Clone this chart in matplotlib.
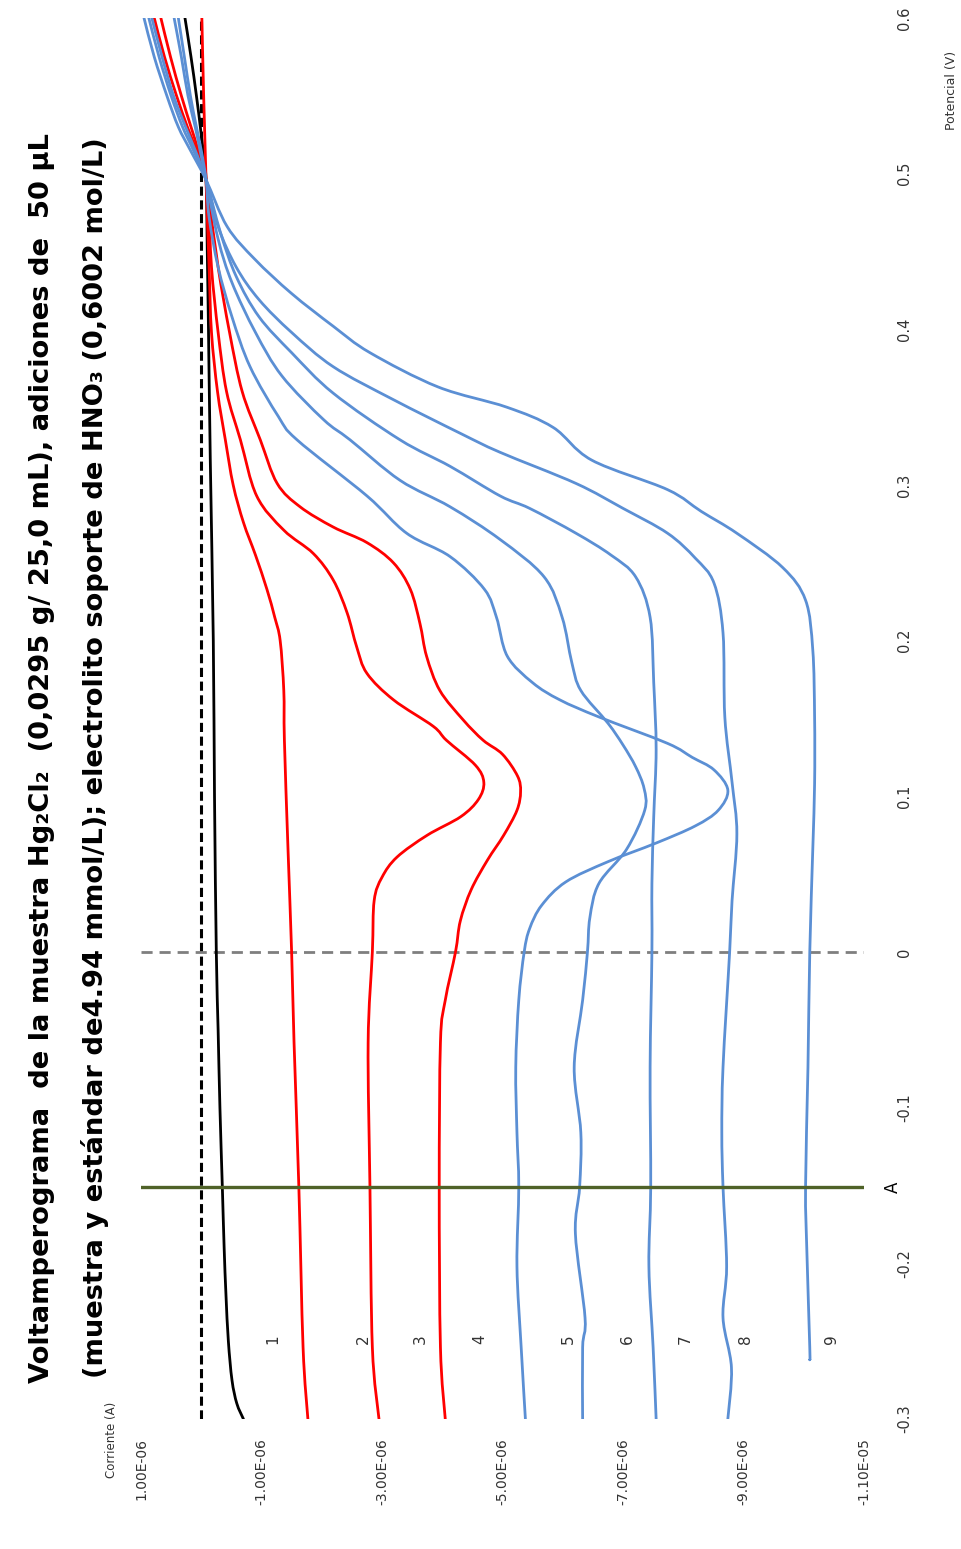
import matplotlib
matplotlib.use("Agg")
import matplotlib.pyplot as plt
from matplotlib.path import Path
from matplotlib.patches import PathPatch
import numpy as np

plt.rcParams['font.family'] = ['DejaVu Sans']

# Potential (V) / current (uA) pairs, one pair per curve
black_pot = [-0.30, -0.29, -0.275, -0.25, -0.22, -0.19, -0.151, -0.10, -0.05, 0.0, 0.10, 0.20, 0.316, 0.40, 0.45, 0.496,
             0.525, 0.55, 0.575, 0.60]
black_cur = [-0.70, -0.59, -0.51, -0.45, -0.41, -0.38, -0.35, -0.31, -0.28, -0.25, -0.22, -0.20, -0.15, -0.12, -0.10, -0.08,
             0.0, 0.08, 0.17, 0.27]

red1_pot = [-0.30, -0.254, -0.151, -0.058, 0.0, 0.066, 0.136, 0.168, 0.20, 0.215, 0.233, 0.255, 0.276, 0.30, 0.329, 0.36,
            0.398, 0.44, 0.483, 0.496, 0.55, 0.60]
red1_cur = [-1.77, -1.69, -1.62, -1.54, -1.50, -1.44, -1.38, -1.37, -1.31, -1.22, -1.09, -0.90, -0.70, -0.53, -0.40, -0.27,
            -0.17, -0.13, -0.09, -0.08, -0.04, -0.01]

red2_pot = [-0.30, -0.254, -0.151, -0.058, 0.0, 0.033, 0.048, 0.061, 0.075, 0.087, 0.098, 0.109, 0.12, 0.136, 0.145, 0.162,
            0.179, 0.196, 0.218, 0.239, 0.256, 0.271, 0.293, 0.329, 0.36, 0.398, 0.44, 0.483, 0.496, 0.515, 0.53, 0.55, 0.575,
            0.60]
red2_cur = [-2.95, -2.84, -2.80, -2.77, -2.84, -2.87, -3.00, -3.25, -3.75, -4.31, -4.60, -4.69, -4.55, -4.07, -3.85, -3.19,
            -2.75, -2.58, -2.42, -2.19, -1.86, -1.37, -0.92, -0.65, -0.42, -0.28, -0.17, -0.12, -0.08, 0.05, 0.17, 0.33, 0.51,
            0.67]

red3_pot = [-0.30, -0.254, -0.151, -0.058, -0.031, 0.0, 0.02, 0.04, 0.059, 0.075, 0.091, 0.103, 0.113, 0.127, 0.136, 0.149,
            0.168, 0.19, 0.211, 0.233, 0.25, 0.263, 0.273, 0.286, 0.301, 0.329, 0.36, 0.398, 0.44, 0.483, 0.496, 0.515, 0.53,
            0.55, 0.575, 0.60]
red3_cur = [-4.05, -3.97, -3.95, -3.97, -4.05, -4.22, -4.30, -4.48, -4.75, -5.02, -5.24, -5.30, -5.25, -5.00, -4.68, -4.35,
            -3.96, -3.74, -3.63, -3.47, -3.19, -2.75, -2.19, -1.64, -1.26, -0.98, -0.68, -0.47, -0.28, -0.13, -0.08, 0.08, 0.23,
            0.41, 0.61, 0.78]

blue4_pot = [-0.30, -0.254, -0.202, -0.151, -0.116, -0.074, -0.031, 0.0, 0.015, 0.03, 0.045, 0.058, 0.070, 0.081, 0.091, 0.104,
             0.117, 0.125, 0.134, 0.151, 0.162, 0.173, 0.19, 0.215, 0.233, 0.254, 0.269, 0.293, 0.329, 0.344, 0.376, 0.408, 0.44,
             0.472, 0.496, 0.515, 0.53, 0.55, 0.575, 0.60]
blue4_cur = [-5.38, -5.31, -5.24, -5.27, -5.24, -5.22, -5.27, -5.36, -5.45, -5.65, -6.05, -6.75, -7.55, -8.20, -8.58, -8.74,
             -8.51, -8.15, -7.74, -6.60, -5.95, -5.50, -5.08, -4.90, -4.70, -4.13, -3.41, -2.75, -1.59, -1.28, -0.81, -0.51, -0.28,
             -0.13, -0.08, 0.0, 0.08, 0.18, 0.28, 0.38]

blue5_pot = [-0.30, -0.254, -0.235, -0.181, -0.151, -0.116, -0.074, -0.031, 0.0, 0.022, 0.044, 0.066, 0.091, 0.105, 0.119, 0.133,
             0.147, 0.168, 0.186, 0.215, 0.241, 0.265, 0.286, 0.303, 0.329, 0.342, 0.37, 0.398, 0.43, 0.458, 0.496, 0.515, 0.53,
             0.55, 0.575, 0.60]
blue5_cur = [-6.33, -6.33, -6.37, -6.21, -6.28, -6.30, -6.19, -6.33, -6.41, -6.45, -6.60, -7.06, -7.36, -7.35, -7.21, -7.00,
             -6.75, -6.30, -6.15, -5.99, -5.69, -4.96, -4.13, -3.30, -2.47, -2.03, -1.34, -0.90, -0.51, -0.28, -0.08, 0.02, 0.10,
             0.22, 0.33, 0.45]

blue6_pot = [-0.30, -0.254, -0.202, -0.151, -0.074, 0.0, 0.044, 0.087, 0.130, 0.173, 0.215, 0.241, 0.255, 0.269, 0.285, 0.293,
             0.312, 0.329, 0.359, 0.385, 0.408, 0.434, 0.462, 0.496, 0.515, 0.53, 0.55, 0.575, 0.60]
blue6_cur = [-7.55, -7.50, -7.43, -7.46, -7.45, -7.48, -7.48, -7.51, -7.55, -7.51, -7.45, -7.21, -6.80, -6.22, -5.45, -4.96,
             -4.13, -3.30, -2.19, -1.50, -0.96, -0.58, -0.32, -0.08, 0.10, 0.26, 0.46, 0.65, 0.82]

blue7_pot = [-0.30, -0.267, -0.235, -0.202, -0.151, -0.116, -0.074, 0.0, 0.033, 0.076, 0.109, 0.151, 0.205, 0.237, 0.253, 0.269,
             0.285, 0.301, 0.321, 0.333, 0.355, 0.376, 0.398, 0.419, 0.44, 0.466, 0.496, 0.515, 0.53, 0.55, 0.575, 0.60]
blue7_cur = [-8.74, -8.80, -8.66, -8.72, -8.66, -8.64, -8.66, -8.77, -8.81, -8.89, -8.81, -8.69, -8.66, -8.51, -8.20, -7.74,
             -7.00, -6.22, -4.96, -4.31, -3.18, -2.19, -1.50, -0.96, -0.58, -0.28, -0.08, 0.13, 0.31, 0.50, 0.70, 0.87]

blue8_pot = [-0.262, -0.254, -0.19, -0.151, -0.074, 0.0, 0.066, 0.108, 0.151, 0.194, 0.226, 0.247, 0.269, 0.283, 0.297, 0.316,
             0.337, 0.35, 0.363, 0.385, 0.402, 0.423, 0.445, 0.466, 0.496, 0.515, 0.53, 0.55, 0.575, 0.60]
blue8_cur = [-10.10, -10.10, -10.05, -10.03, -10.07, -10.10, -10.15, -10.18, -10.18, -10.15, -10.03, -9.65, -8.89, -8.30, -7.74,
             -6.48, -5.84, -5.07, -3.93, -2.80, -2.19, -1.50, -0.89, -0.43, -0.08, 0.18, 0.38, 0.57, 0.78, 0.95]

# Curve number labels (position in uA at potential label_pot)
label_text = ["1", "2", "3", "4", "5", "6", "7", "8", "9"]
label_cur = [-1.18, -2.69, -3.63, -4.63, -6.09, -7.08, -8.04, -9.04, -10.46]
label_pot = -0.249

cur_ticks = [1e-6, -1e-6, -3e-6, -5e-6, -7e-6, -9e-6, -1.1e-5]
pot_ticks = [-0.3, -0.2, -0.1, 0.0, 0.1, 0.2, 0.3, 0.4, 0.5, 0.6]
pot_tick_labels = ["-0.3", "-0.2", "-0.1", "0", "0.1", "0.2", "0.3", "0.4", "0.5", "0.6"]
marker_A_pot = -0.151

RED = "#ff0000"
BLUE = "#5b8fd4"

curves = [
    (black_pot, black_cur, "black"),
    (red1_pot, red1_cur, RED),
    (red2_pot, red2_cur, RED),
    (red3_pot, red3_cur, RED),
    (blue4_pot, blue4_cur, BLUE),
    (blue5_pot, blue5_cur, BLUE),
    (blue6_pot, blue6_cur, BLUE),
    (blue7_pot, blue7_cur, BLUE),
    (blue8_pot, blue8_cur, BLUE),
]


def smooth_path(xs, ys):
    # Excel-style "smoothed line": Bezier segments through the points
    pts = np.column_stack([xs, ys])
    n = len(pts)
    verts = [pts[0]]
    codes = [Path.MOVETO]
    for i in range(n - 1):
        p0 = pts[i - 1] if i > 0 else pts[i]
        p1, p2 = pts[i], pts[i + 1]
        p3 = pts[i + 2] if i + 2 < n else pts[i + 1]
        verts += [p1 + (p2 - p0) / 6, p2 - (p3 - p1) / 6, p2]
        codes += [Path.CURVE4] * 3
    return Path(verts, codes)


fig = plt.figure(figsize=(9.61, 15.49), dpi=100)
# chart is drawn turned a quarter turn: current runs across, potential runs up
ax = fig.add_axes([141 / 961, 1 - 1419 / 1549, 723 / 961, 1401 / 1549])

ax.axvline(0, color="black", ls=(0, (3, 1.5)), lw=2.2, zorder=1)
ax.axhline(0, color="#7f7f7f", ls=(0, (4, 2.5)), lw=2.0, zorder=1)

for pot, cur, col in curves:
    path = smooth_path(np.array(cur) * 1e-6, np.array(pot))
    ax.add_patch(PathPatch(path, fill=False, edgecolor=col, lw=2.0, zorder=2, capstyle="round"))

ax.axhline(marker_A_pot, color="#4f6228", lw=2.4, zorder=3)

for txt, c in zip(label_text, label_cur):
    ax.text(c * 1e-6, label_pot, txt, rotation=90, ha="center", va="center",
            fontsize=11, color="#333333")

ax.set_xlim(1e-6, -1.1e-5)
ax.set_ylim(-0.3, 0.6)
ax.set_xticks(cur_ticks)
ax.set_xticklabels([f"{v:.2E}" for v in cur_ticks], rotation=90, fontsize=10, color="#333333")
ax.yaxis.tick_right()
ax.set_yticks(pot_ticks)
ax.set_yticklabels(pot_tick_labels, rotation=90, fontsize=10.5, color="#333333", va="center")
ax.tick_params(axis="x", length=0, pad=14)
ax.tick_params(axis="y", length=0, pad=24)
for s in ax.spines.values():
    s.set_visible(False)

ax.text(1.040, marker_A_pot, "A", rotation=90, ha="center", va="center", fontsize=12,
        transform=ax.get_yaxis_transform())

fig.text(112 / 961, 1 - 1440 / 1549, "Corriente (A)", rotation=90, ha="center", va="center",
         fontsize=8.5, color="#333333")
fig.text(952 / 961, 1 - 90 / 1549, "Potencial (V)", rotation=90, ha="center", va="center",
         fontsize=9, color="#333333")

fig.text(42 / 961, 1 - 758 / 1549,
         "Voltamperograma  de la muestra Hg\u2082Cl\u2082  (0,0295 g/ 25,0 mL), adiciones de  50 \u00b5L",
         rotation=90, ha="center", va="center", fontsize=19.7, fontweight="bold")
fig.text(95 / 961, 1 - 758 / 1549,
         "(muestra y estándar de4.94 mmol/L); electrolito soporte de HNO\u2083 (0,6002 mol/L)",
         rotation=90, ha="center", va="center", fontsize=19.7, fontweight="bold")

fig.savefig("out.png", dpi=100)
